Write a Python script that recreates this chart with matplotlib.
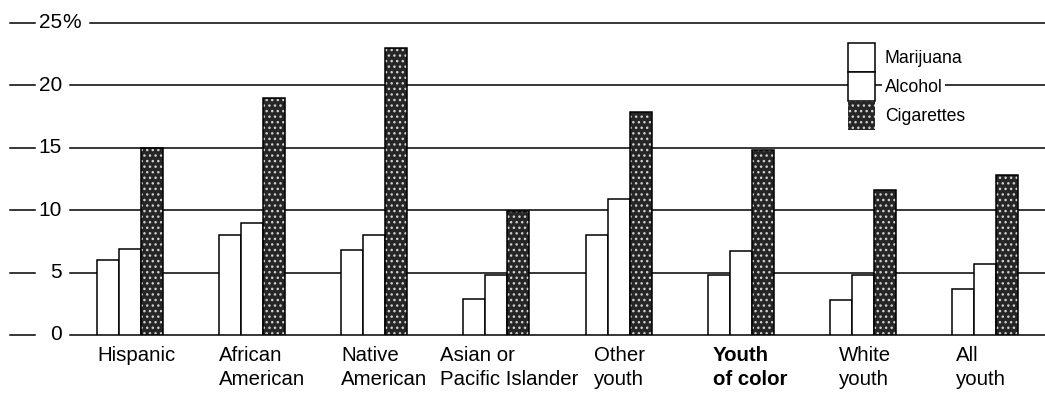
import matplotlib.pyplot as plt
import numpy as np

plt.rcParams['font.family'] = ['Liberation Sans', 'DejaVu Sans']

# data (percent of youth)
groups = ["Hispanic", "African\nAmerican", "Native\nAmerican", "Asian or\nPacific Islander",
          "Other\nyouth", "Youth\nof color", "White\nyouth", "All\nyouth"]
marijuana = [6.0, 8.0, 6.8, 2.9, 8.0, 4.8, 2.8, 3.7]
alcohol = [6.9, 9.0, 8.0, 4.8, 10.9, 6.7, 4.8, 5.7]
cigarettes = [15.0, 19.0, 23.0, 9.9, 17.9, 14.8, 11.6, 12.8]
yticks = [0, 5, 10, 15, 20, 25]

# small nudges of the category labels (data units)
label_shift = [0, 0, 0, -0.19, 0.07, 0.04, 0.07, 0.03]

cig_face = '#262626'
cig_hatch = '#d0d0d0'

fig = plt.figure(figsize=(10.45, 3.94), dpi=100)
ax = fig.add_axes([70 / 1045, 59 / 394, 975 / 1045, 312 / 394])

x = np.arange(len(groups))
w = 0.18

# gridlines + dashed-style tick labels on the left
for t in yticks:
    xmin = 0.021 if t == 25 else 0
    ax.axhline(t, xmin=xmin, xmax=1, color='black', lw=1.1, zorder=1, clip_on=False)
    ax.plot([-0.0615, -0.0359], [t, t], transform=ax.get_yaxis_transform(),
            color='black', lw=1.1, clip_on=False)
    ax.text(-0.0082, t, str(t), transform=ax.get_yaxis_transform(),
            ha='right', va='center', fontsize=15)
ax.text(-0.0075, 25, "%", transform=ax.get_yaxis_transform(),
        ha='left', va='center', fontsize=15)

ax.bar(x - w, marijuana, w, color='white', edgecolor='black', lw=1.1, zorder=3, label='Marijuana')
ax.bar(x, alcohol, w, color='white', edgecolor='black', lw=1.1, zorder=3, label='Alcohol')
ax.bar(x + w, cigarettes, w, color=cig_face, edgecolor=cig_hatch, lw=0, hatch='...', zorder=3)
ax.bar(x + w, cigarettes, w, fill=False, edgecolor='black', lw=1.1, zorder=4)

cig_proxy = plt.Rectangle((0, 0), 1, 1, facecolor=cig_face, edgecolor=cig_hatch, hatch='...', lw=0)

handles, labels = ax.get_legend_handles_labels()
handles.append(cig_proxy)
labels.append('Cigarettes')
leg = ax.legend(handles, labels, loc='upper left', bbox_to_anchor=(848 / 1045, 1 - 43 / 394),
                bbox_transform=fig.transFigure, frameon=False, fontsize=12.7,
                handlelength=1.53, handleheight=2.15, labelspacing=0, handletextpad=0.55,
                borderpad=0, borderaxespad=0)
leg.set_zorder(6)
for txt in leg.get_texts():
    txt.set_bbox(dict(facecolor='white', edgecolor='none', pad=2))
for h in leg.legend_handles[:2]:
    h.set_edgecolor('black')
    h.set_linewidth(1.1)

for i, g in enumerate(groups):
    ax.text(i - 1.5 * w + label_shift[i], -0.9, g, ha='left', va='top', fontsize=14.7,
            linespacing=1.3, fontweight='bold' if g.startswith('Youth') else 'normal')

ax.set_xlim(-0.49, 7.49)
ax.set_ylim(0, 25)
ax.axis('off')

fig.savefig('out.png', dpi=100)
